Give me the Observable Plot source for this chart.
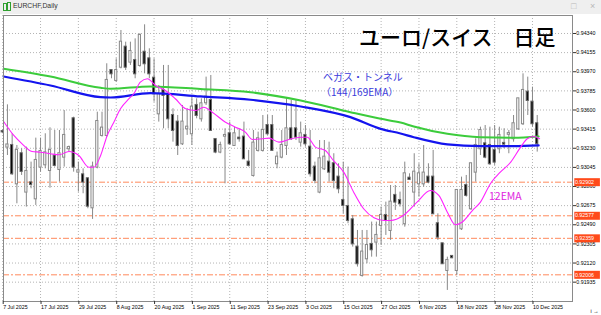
<!DOCTYPE html>
<html><head><meta charset="utf-8">
<script src="https://cdn.jsdelivr.net/npm/d3@7"></script>
<script src="https://cdn.jsdelivr.net/npm/@observablehq/plot@0.6"></script>
<style>
html,body{margin:0;padding:0;background:#fff;}
#wrap{position:relative;width:601px;height:315px;overflow:hidden;font-family:"Liberation Sans",Arial,sans-serif;}
#bar{position:absolute;left:0;top:0;width:601px;height:14px;background:#efefef;z-index:2;}
#bar .t{position:absolute;left:13px;top:2px;font-size:6.8px;color:#333;}
#bar .ic{position:absolute;left:3px;top:3px;width:2px;height:6px;border:1px solid #2fa02f;}
#bar .ic2{position:absolute;left:7px;top:2px;width:2px;height:7px;border:1px solid #2fa02f;}
#bar .b{position:absolute;top:1px;font-size:9px;color:#b8b8b8;}
#chart{position:absolute;left:0;top:0;}
.ann{position:absolute;z-index:3;white-space:nowrap;font-family:"Noto Sans CJK JP",sans-serif;line-height:1;}
</style></head>
<body><div id="wrap">
<div id="bar"><div class="ic"></div><div class="ic2"></div><div class="t">EURCHF,Daily</div><div class="b" style="left:571px">□</div><div class="b" style="left:590px">×</div></div>
<div id="chart"></div>
<div class="ann" style="left:359px;top:26px;font-size:21px;font-weight:500;color:#000;">ユーロ/スイス　日足</div>
<div class="ann" style="left:323px;top:72px;font-size:10px;color:#3b3bdb;">ベガス・トンネル</div>
<div class="ann" style="left:321px;top:87px;font-size:10px;color:#3b3bdb;">（144/169EMA）</div>
<div class="ann" style="left:489px;top:191px;font-size:10.5px;color:#e01ee0;">12EMA</div>
</div>
<script>
// ---- data ----
const dateIdx = [0,8,16,24,32,40,48,56,64,72,80,88,96,104,112];
const dateLabels = ["7 Jul 2025","17 Jul 2025","29 Jul 2025","8 Aug 2025","20 Aug 2025","1 Sep 2025","11 Sep 2025","23 Sep 2025","3 Oct 2025","15 Oct 2025","27 Oct 2025","6 Nov 2025","18 Nov 2025","28 Nov 2025","10 Dec 2025"];
const priceTicks = [0.94340,0.94155,0.93970,0.93785,0.93600,0.93415,0.93230,0.93045,0.92860,0.92675,0.92490,0.92305,0.92120,0.91935];
const levels = [0.92902,0.92577,0.92359,0.92006];

const opens  = [0.93392,0.93241,0.93257,0.92886,0.93177,0.92806,0.92895,0.92741,0.93048,0.93070,
0.93015,0.93154,0.93025,0.93144,0.93225,0.93515,0.92999,0.92973,0.92935,0.92654,
0.93048,0.93354,0.93354,0.93982,0.93886,0.94014,0.94208,0.94063,0.94079,0.94031,
0.94159,0.94095,0.93908,0.93563,0.93789,0.93741,0.93547,0.93483,0.93273,0.93418,
0.93370,0.93644,0.93515,0.93670,0.93692,0.93315,0.93193,0.93347,0.93370,0.93257,
0.93328,0.93338,0.93096,0.92967,0.93209,0.93209,0.93450,0.93450,0.93080,0.93144,
0.93257,0.93418,0.93418,0.93289,0.93354,0.93241,0.93048,0.92806,0.93031,0.93096,
0.93080,0.92951,0.92725,0.92667,0.92538,0.92274,0.92000,0.92161,0.92300,0.92322,
0.92484,0.92580,0.92435,0.92774,0.92725,0.92500,0.92941,0.92806,0.92886,0.92886,
0.92951,0.92951,0.92500,0.92306,0.92048,0.92184,0.92048,0.92451,0.92870,0.92645,
0.92999,0.93225,0.93273,0.93257,0.93209,0.93225,0.93277,0.93365,0.93322,0.93418,
0.93467,0.93773,0.93676,0.93467];
const highs  = [0.93410,0.93650,0.93370,0.93257,0.93225,0.93241,0.93096,0.93328,0.93328,0.93370,
0.93428,0.93402,0.93402,0.93595,0.93251,0.93531,0.93096,0.93031,0.92940,0.93096,
0.93579,0.93579,0.94047,0.93990,0.94095,0.94369,0.94256,0.94256,0.94288,0.94337,
0.94424,0.94192,0.94095,0.93837,0.94031,0.94031,0.93612,0.93547,0.93644,0.93612,
0.93741,0.93708,0.93708,0.93918,0.93934,0.93322,0.93289,0.93418,0.93483,0.93434,
0.93418,0.93483,0.93209,0.93402,0.93386,0.93547,0.93547,0.93547,0.93193,0.93402,
0.93708,0.93692,0.93692,0.93483,0.93450,0.93402,0.93096,0.93305,0.93305,0.93289,
0.93177,0.93080,0.93096,0.93048,0.92580,0.92435,0.92435,0.92435,0.92516,0.92516,
0.92661,0.92709,0.92870,0.92870,0.92806,0.93096,0.92983,0.93177,0.93080,0.93257,
0.93080,0.93209,0.92596,0.92310,0.92177,0.92193,0.92826,0.92951,0.92967,0.93084,
0.93322,0.93434,0.93450,0.93434,0.93450,0.93434,0.93418,0.93402,0.93547,0.93712,
0.93950,0.93918,0.93821,0.93547];
const lows   = [0.93370,0.93160,0.92967,0.92693,0.92967,0.92661,0.92838,0.92677,0.92999,0.93031,
0.92844,0.93048,0.92903,0.93048,0.93193,0.92999,0.92806,0.92790,0.92645,0.92542,
0.93031,0.93338,0.93338,0.93902,0.93869,0.93998,0.93982,0.94031,0.93902,0.94014,
0.93950,0.93902,0.93676,0.93483,0.93418,0.93418,0.93289,0.93160,0.93257,0.93354,
0.93257,0.93515,0.93483,0.93644,0.93400,0.93177,0.93177,0.92886,0.93257,0.93247,
0.93289,0.93125,0.93048,0.92951,0.93193,0.93193,0.93354,0.93205,0.93031,0.93128,
0.93160,0.93305,0.93305,0.93241,0.93241,0.92951,0.92886,0.92790,0.93015,0.92903,
0.92838,0.92790,0.92596,0.92500,0.92274,0.92081,0.91984,0.92113,0.92177,0.92177,
0.92290,0.92387,0.92339,0.92629,0.92661,0.92467,0.92919,0.92661,0.92757,0.92854,
0.92886,0.92590,0.92339,0.92110,0.91855,0.92161,0.92000,0.92435,0.92757,0.92629,
0.92903,0.93160,0.93128,0.93064,0.93064,0.93177,0.93225,0.93177,0.93289,0.93402,
0.93450,0.93547,0.93434,0.93193];
const closes = [0.93388,0.93262,0.92983,0.93209,0.93006,0.93006,0.92880,0.93112,0.93199,0.93186,
0.93209,0.93064,0.93177,0.93354,0.93237,0.93048,0.93012,0.92903,0.92670,0.93048,
0.93489,0.93425,0.93886,0.93950,0.93982,0.94256,0.94014,0.94166,0.93950,0.94321,
0.94047,0.93950,0.93757,0.93750,0.93741,0.93515,0.93402,0.93257,0.93483,0.93434,
0.93628,0.93547,0.93660,0.93724,0.93402,0.93193,0.93257,0.93354,0.93273,0.93370,
0.93322,0.93128,0.93064,0.93280,0.93322,0.93402,0.93370,0.93209,0.93144,0.93257,
0.93418,0.93322,0.93338,0.93370,0.93273,0.92983,0.92919,0.93128,0.93144,0.92999,
0.92919,0.92838,0.92677,0.92532,0.92306,0.92113,0.92226,0.92290,0.92248,0.92387,
0.92580,0.92532,0.92709,0.92709,0.92693,0.92983,0.92928,0.92999,0.92983,0.92990,
0.92903,0.92596,0.92371,0.92113,0.92145,0.92171,0.92822,0.92822,0.92774,0.93080,
0.93257,0.93402,0.93144,0.93080,0.93096,0.93354,0.93270,0.93372,0.93467,0.93708,
0.93789,0.93692,0.93467,0.93273];

// moving-average lines (bar index, value)
const greenIdx = [0.2,10.1,20.7,22.8,31.2,41.8,52.4,63,73.5,79.9,84.1,86.9,94,101,108,113.3];
const greenVal = [0.93999,0.93924,0.93815,0.93805,0.93828,0.93803,0.93772,0.93692,0.93579,0.93515,0.93479,0.93441,0.93370,0.93337,0.93332,0.93344];
const blueIdx  = [0.2,10.1,20.7,22.8,31.2,41.8,52.4,63,73.5,79.9,84.1,86.9,94,101,108,113.3];
const blueVal  = [0.93924,0.93837,0.93724,0.93721,0.93763,0.93731,0.93699,0.93634,0.93531,0.93418,0.93373,0.93337,0.93267,0.93250,0.93250,0.93257];
const magIdx = [0.2,2.35,4.1,6.2,8,10.1,11.9,14,16.1,18.2,19.3,20.7,22.1,23.5,24.9,26.7,27.7,29.1,30.6,32.3,34.4,36.5,38.7,40.8,42.5,44.3,47.1,49.2,51.3,52.8,54.9,56.3,58.4,60.5,63,64.4,66.1,68.2,69.9,72.1,74.2,76.3,78.5,80.6,82,84.7,87.6,90.4,92.2,94,95.7,97.1,99.3,101,103.1,105.2,107.4,109.5,110.9,112.3,113.5];
const magVal = [0.93489,0.93354,0.93273,0.93199,0.93192,0.93177,0.93167,0.93199,0.93160,0.93047,0.93047,0.93160,0.93354,0.93482,0.93612,0.93709,0.93757,0.93869,0.93902,0.93837,0.93789,0.93709,0.93612,0.93595,0.93627,0.93579,0.93482,0.93434,0.93386,0.93315,0.93322,0.93328,0.93289,0.93315,0.93337,0.93337,0.93241,0.93209,0.93112,0.92999,0.92805,0.92645,0.92558,0.92532,0.92532,0.92580,0.92709,0.92822,0.92774,0.92612,0.92490,0.92515,0.92628,0.92709,0.92887,0.92999,0.93096,0.93241,0.93322,0.93344,0.93322];

// ---- build ----
const bars = opens.map((o,i)=>({i, o, h:highs[i], l:lows[i], c:closes[i]}));
const up = bars.filter(d=>d.c>=d.o), down = bars.filter(d=>d.c<d.o);
const green = greenIdx.map((i,k)=>({i, v:greenVal[k]}));
const blue = blueIdx.map((i,k)=>({i, v:blueVal[k]}));
const mag = magIdx.map((i,k)=>({i, v:magVal[k]}));
const labelOf = new Map(dateIdx.map((d,k)=>[d,dateLabels[k]]));
const hw = 0.23;
const box = {draw(ctx){ ctx.rect(-12.8,-4,25.6,8); }};

const chart = Plot.plot({
  width: 601, height: 315,
  marginTop: 15, marginBottom: 14, marginLeft: 3, marginRight: 29,
  style: {fontFamily: "'Liberation Sans', Arial, sans-serif", fontSize: "5.3px", color: "#000", background: "transparent", overflow: "visible"},
  x: {domain: [0.17, 120.46]},
  y: {domain: [0.91748, 0.94514]},
  marks: [
    Plot.gridY(priceTicks, {stroke: "#b4b4b4", strokeOpacity: 1, strokeDasharray: "1,2"}),
    Plot.gridX(dateIdx, {stroke: "#b4b4b4", strokeOpacity: 1, strokeDasharray: "1,2"}),
    Plot.ruleY(levels, {stroke: "#ff8a5c", strokeWidth: 1, strokeDasharray: "6,2,2,2"}),
    Plot.ruleX(bars, {x: "i", y1: "l", y2: "h", stroke: "#888"}),
    Plot.rect(up, {x1: d=>d.i-hw, x2: d=>d.i+hw, y1: d=>Math.min(d.o,d.c), y2: d=>Math.max(d.o,d.c), fill: "#fff", stroke: "#888", insetTop: -0.5, insetBottom: -0.5}),
    Plot.rect(down, {x1: d=>d.i-hw, x2: d=>d.i+hw, y1: "c", y2: "o", fill: "#000", stroke: "#666", insetTop: -0.5, insetBottom: -0.5}),
    Plot.line(green, {x: "i", y: "v", stroke: "#3ccc3c", strokeWidth: 2, curve: "monotone-x"}),
    Plot.line(blue, {x: "i", y: "v", stroke: "#1414ee", strokeWidth: 2.2, curve: "monotone-x"}),
    Plot.line(mag, {x: "i", y: "v", stroke: "#ff22ff", strokeWidth: 1.1, curve: "monotone-x"}),
    Plot.frame({stroke: "#8a8a8a"}),
    Plot.axisY(priceTicks, {anchor: "right", tickSize: 3, tickPadding: 0.8, tickFormat: d=>d.toFixed(5), stroke: "#333"}),
    Plot.axisX(dateIdx, {anchor: "bottom", tickSize: 3, tickPadding: 1, tickFormat: d=>labelOf.get(d), textAnchor: "start", dx: 0.5, stroke: "#333"}),
    Plot.dot(levels, {y: d=>d, frameAnchor: "right", dx: 14.6, symbol: box, fill: "#ff4a1a", stroke: null}),
    Plot.text(levels, {y: d=>d, frameAnchor: "right", dx: 2.4, textAnchor: "start", text: d=>d.toFixed(5), fill: "#fff"})
  ]
});
document.getElementById("chart").appendChild(chart);
</script>
</body></html>
